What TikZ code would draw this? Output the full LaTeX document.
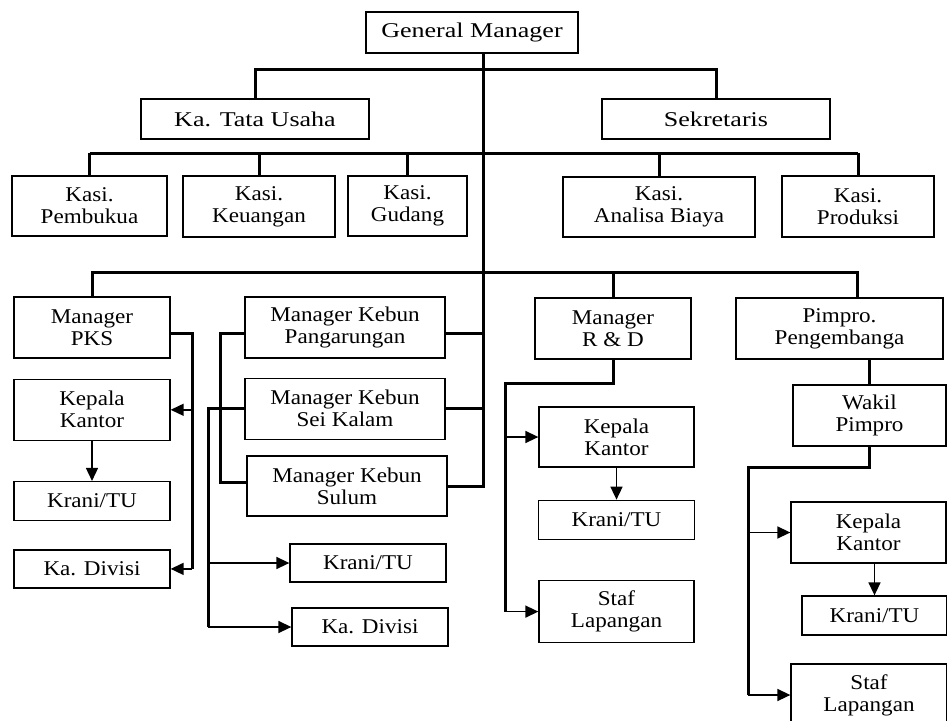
\documentclass[tikz,border=0pt]{standalone}
\usepackage{fontspec}
\setmainfont{Liberation Serif}
\newfontfamily\wideserif{Liberation Serif}[FakeStretch=1.24]
\newfontfamily\boxserif{Liberation Serif}[FakeStretch=1.1]
\usetikzlibrary{arrows.meta, positioning}

\begin{document}
\begin{tikzpicture}[
    x=1pt, y=-1pt,
    box/.style={rectangle, draw, line width=1.3pt, align=center, inner sep=0pt, minimum width=156pt, minimum height=61pt, font=\boxserif\fontsize{21}{22}\selectfont},
    topbox/.style={box, minimum height=40pt, font=\wideserif\fontsize{21}{22}\selectfont},
    smallbox/.style={box, minimum height=39pt},
    bus/.style={line width=3pt},
    arrow/.style={-{Triangle[length=13pt, width=12pt]}, line width=1.5pt}
]
\path[use as bounding box, clip] (0,0) rectangle (947,720);

% Levels of the horizontal lines
\coordinate (b1) at (0,69);
\coordinate (b2) at (0,153);
\coordinate (b3) at (0,272);
\coordinate (trunk) at (483,0);

% Row 1: top management
\node[topbox, minimum width=212pt, minimum height=41pt] (gm) at (472,32.5) {General Manager};
\node[topbox, minimum width=228pt] (tu) at (255,119) {Ka. Tata Usaha};
\node[topbox, minimum width=228pt] (sek) at (716,119) {Sekretaris};

% Row 2: Kasi
\node[box, minimum width=155pt, minimum height=60pt] (pembukua) at (89.5,206) {Kasi.\\Pembukua};
\node[box, minimum width=152pt] (keuangan) at (259,206.5) {Kasi.\\Keuangan};
\node[box, minimum width=119pt, minimum height=60pt] (gudang) at (407.5,206) {Kasi.\\Gudang};
\node[box, minimum width=192pt, minimum height=60pt] (analisa) at (659,207) {Kasi.\\Analisa Biaya};
\node[box, minimum width=152pt] (produksi) at (858,206.5) {Kasi.\\Produksi};

% Column PKS
\node[box] (pks) at (92,327.5) {Manager\\PKS};
\node[box, below=20pt of pks] (kkpks) {Kepala\\Kantor};
\node[smallbox, below=40pt of kkpks] (krpks) {Krani/TU};
\node[box, minimum height=38pt, below=28pt of krpks] (kdpks) {Ka. Divisi};

% Column Kebun
\node[box, minimum width=200pt] (kbp) at (345,327.5) {Manager Kebun\\Pangarungan};
\node[box, minimum width=200pt, below=19pt of kbp] (kbs) {Manager Kebun\\Sei Kalam};
\node[box, minimum width=200pt, minimum height=60pt] (kbm) at (347,486) {Manager Kebun\\Sulum};
\node[box, minimum height=38pt] (krkb) at (368,563) {Krani/TU};
\node[box, minimum height=38pt] (kdkb) at (370,627) {Ka. Divisi};

% Column R & D
\node[box] (rnd) at (613,328.5) {Manager\\R \& D};
\node[box, minimum width=155pt, minimum height=60pt] (kkrnd) at (616.5,437) {Kepala\\Kantor};
\node[smallbox, below=32pt of kkrnd] (krrnd) {Krani/TU};
\node[box, minimum width=155pt, minimum height=62pt, below=40pt of krrnd] (sfrnd) {Staf\\Lapangan};

% Column Pimpro
\node[box, minimum width=207pt] (pim) at (839.5,328.5) {Pimpro.\\Pengembanga};
\node[box, minimum width=153pt] (wakil) at (869.5,415.5) {Wakil\\Pimpro};
\node[box, minimum width=155pt] (kkpim) at (868.5,532.5) {Kepala\\Kantor};
\node[smallbox, minimum width=145pt] (krpim) at (874.5,615.5) {Krani/TU};
\node[box, minimum height=62pt] (sfpim) at (869,695) {Staf\\Lapangan};

% Trunk and buses
\draw[bus] (gm.south -| trunk) -- (kbm.east -| trunk) -- (kbm.east);
\draw[bus] (tu.north) |- (b1 -| sek.north) -- (sek.north);
\draw[bus] (pembukua.north |- b2) -- (produksi.north |- b2);
\draw[bus] (pembukua.north |- b2) -- (pembukua.north);
\draw[bus] (keuangan.north |- b2) -- (keuangan.north);
\draw[bus] (gudang.north |- b2) -- (gudang.north);
\draw[bus] (analisa.north |- b2) -- (analisa.north);
\draw[bus] (produksi.north |- b2) -- (produksi.north);
\coordinate (pimdrop) at ([xshift=18pt]pim.north);
\draw[bus] (pks.north) -- (pks.north |- b3) -- (b3 -| pimdrop) -- (pimdrop);
\draw[bus] (rnd.north |- b3) -- (rnd.north);

% PKS links
\coordinate (pksv) at (192,0);
\draw[bus] ([yshift=-6pt]pks.east) -| (pksv |- kdpks.east);
\draw[arrow] (pksv |- kkpks.east) -- (kkpks.east);
\draw[arrow] (pksv |- kdpks.east) -- (kdpks.east);
\draw[arrow] (kkpks.south) -- (kkpks.south |- krpks.north);

% Kebun links
\draw[bus] ([yshift=-6pt]kbp.west) -- ++(-24,0) |- ([yshift=4pt]kbm.west);
\coordinate (kbv) at (208,0);
\draw[bus] (kbs.west) -| (kbv |- kdkb.west);
\draw[arrow] (kbv |- krkb.west) -- (krkb.west);
\draw[arrow] (kbv |- kdkb.west) -- (kdkb.west);
\draw[bus] ([yshift=-6pt]kbp.east) -- ([yshift=-6pt]kbp.east -| trunk);
\draw[bus] (kbs.east) -- (kbs.east -| trunk);

% R & D links
\coordinate (rndv) at (505,0);
\draw[bus] (rnd.south) -- ++(0,24) -| (rndv |- sfrnd.west);
\draw[arrow] (rndv |- kkrnd.west) -- (kkrnd.west);
\draw[arrow] (rndv |- sfrnd.west) -- (sfrnd.west);
\draw[arrow] (kkrnd.south) -- (kkrnd.south |- krrnd.north);

% Pimpro links
\draw[bus] (wakil.north |- pim.south) -- (wakil.north);
\coordinate (wakv) at (748,0);
\draw[bus] (wakil.south) -- ++(0,21) -| (wakv |- sfpim.west);
\draw[arrow] (wakv |- kkpim.west) -- (kkpim.west);
\draw[arrow] (wakv |- sfpim.west) -- (sfpim.west);
\draw[arrow] (krpim.north |- kkpim.south) -- (krpim.north);
\end{tikzpicture}
\end{document}
